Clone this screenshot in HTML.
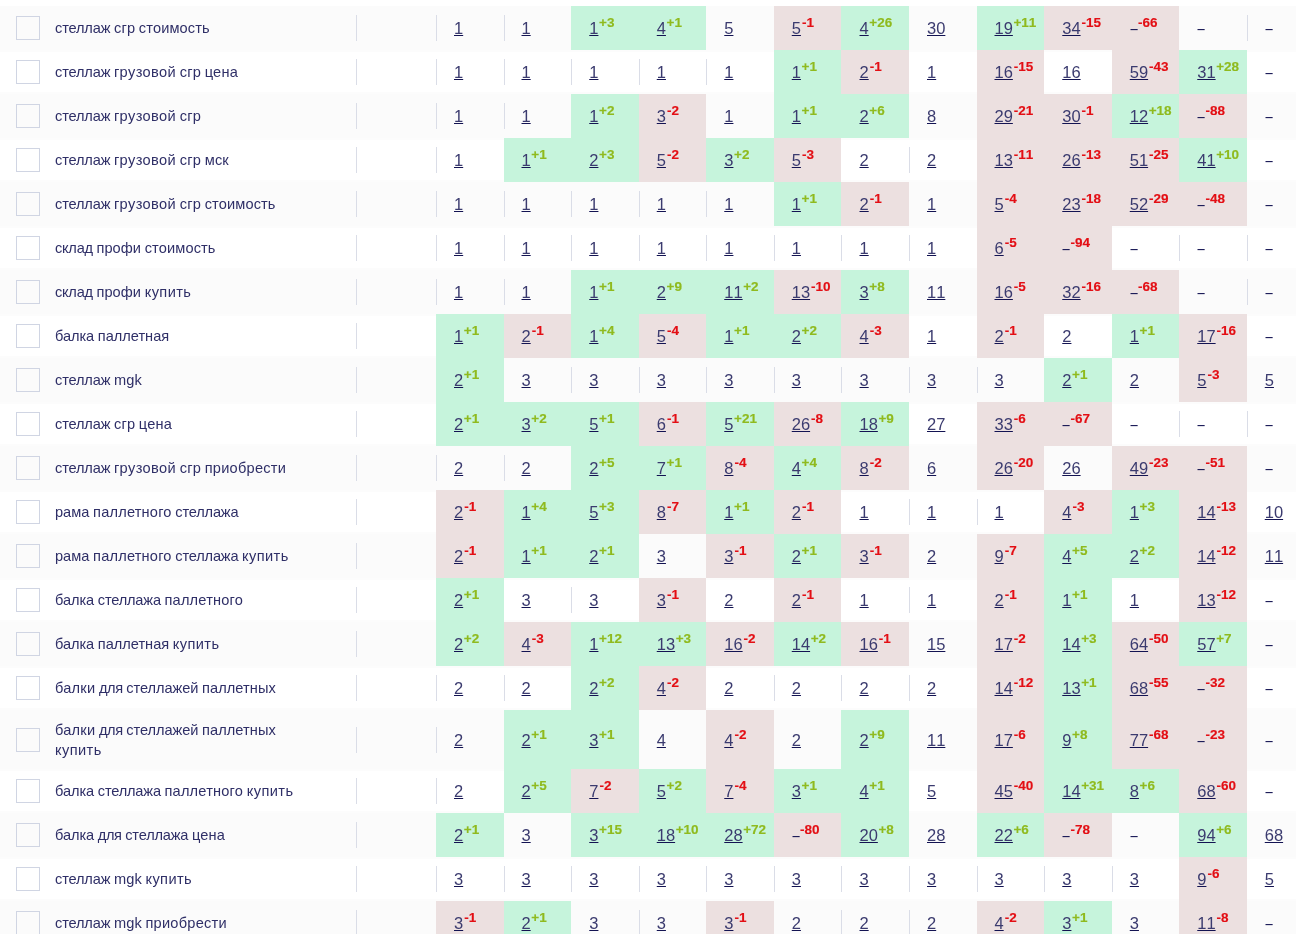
<!DOCTYPE html>
<html lang="ru">
<head>
<meta charset="utf-8">
<title>Позиции</title>
<style>
*{box-sizing:border-box;margin:0;padding:0}
html,body{width:1296px;height:934px;overflow:hidden;background:#fff}
body{font-family:"Liberation Sans", "DejaVu Sans", sans-serif;color:#131352;position:relative}
.t{position:absolute;left:0;top:0;width:1296px;height:934px;overflow:hidden}
.b{position:absolute;left:0;width:1296px;background:#fcfcfc}
.o{background:#fbfbfb}
.r{position:absolute;left:0;width:1296px}
.cb{position:absolute;left:16px;width:24px;height:24px;border:1px solid #d0d5e3;border-radius:0;background:transparent}
.k{color:#2f2f67;position:absolute;left:55px;width:290px;font-size:14.6px;line-height:20px;white-space:nowrap;word-spacing:-0.42px}
.c{position:absolute;top:0;height:100%;font-size:16.5px;white-space:nowrap;font-kerning:none}
.c.g{background:#c6f4dc}
.c.p{background:#ece0e0}
.s::before{content:"";position:absolute;left:0;top:9px;width:1px;height:26px;background:#dadde7}
.tall .s::before{top:17px}
.v{position:absolute;left:0;top:0;display:block;line-height:20px;height:20px}
.v a{color:#3b3b6f;text-decoration:underline;text-decoration-color:#131352;text-decoration-thickness:1px;text-underline-offset:1px;text-decoration-skip-ink:none}
.v sup{-webkit-text-stroke:0.15px currentColor;font-size:13.5px;font-weight:700;line-height:0;vertical-align:baseline;position:relative;top:-7px;margin-left:0.6px}
.p sup{margin-left:1.0px}
.d{display:inline-block;transform:translateX(-0.5px) scaleX(0.78);margin-right:-1.9px}
.g sup{color:#8fba1e}
.p sup{color:#e30e14}
</style>
</head>
<body>
<div class="t">
<div class="b" style="top:6px;height:46px"></div>
<div class="b" style="top:92px;height:48px"></div>
<div class="b" style="top:180px;height:48px"></div>
<div class="b" style="top:268px;height:48px"></div>
<div class="b" style="top:356px;height:48px"></div>
<div class="b" style="top:444px;height:48px"></div>
<div class="b" style="top:532px;height:48px"></div>
<div class="b" style="top:620px;height:48px"></div>
<div class="b" style="top:708px;height:63px"></div>
<div class="b" style="top:811px;height:48px"></div>
<div class="b" style="top:899px;height:48px"></div>
<div class="r o" style="top:6px;height:44px">
<span class="cb" style="top:10px"></span>
<div class="k" style="top:12px"><span style="letter-spacing:-0.16px">стеллаж</span> <span style="letter-spacing:0.19px">сгр</span> <span style="letter-spacing:0.12px">стоимость</span></div>
<div class="c s" style="left:356px;width:80px"></div>
<div class="c s" style="left:436px;width:68px"><span class="v" style="left:18.0px;top:12px"><a href="#">1</a></span></div>
<div class="c s" style="left:504px;width:67px"><span class="v" style="left:17.5px;top:12px"><a href="#">1</a></span></div>
<div class="c g" style="left:571px;width:68px"><span class="v" style="left:18.25px;top:12px"><a href="#">1</a><sup>+3</sup></span></div>
<div class="c g" style="left:639px;width:67px"><span class="v" style="left:17.75px;top:12px"><a href="#">4</a><sup>+1</sup></span></div>
<div class="c" style="left:706px;width:68px"><span class="v" style="left:18.25px;top:12px"><a href="#">5</a></span></div>
<div class="c p" style="left:774px;width:67px"><span class="v" style="left:17.75px;top:12px"><a href="#">5</a><sup>-1</sup></span></div>
<div class="c g" style="left:841px;width:68px"><span class="v" style="left:18.5px;top:12px"><a href="#">4</a><sup>+26</sup></span></div>
<div class="c" style="left:909px;width:68px"><span class="v" style="left:18.0px;top:12px"><a href="#">30</a></span></div>
<div class="c g" style="left:977px;width:67px"><span class="v" style="left:17.5px;top:12px"><a href="#">19</a><sup>+11</sup></span></div>
<div class="c p" style="left:1044px;width:68px"><span class="v" style="left:18.25px;top:12px"><a href="#">34</a><sup>-15</sup></span></div>
<div class="c p" style="left:1112px;width:67px"><span class="v" style="left:17.75px;top:12px"><span class="d">–</span><sup>-66</sup></span></div>
<div class="c" style="left:1179px;width:68px"><span class="v" style="left:18.25px;top:12px"><span class="d">–</span></span></div>
<div class="c s" style="left:1247px;width:68px"><span class="v" style="left:17.75px;top:12px"><span class="d">–</span></span></div>
</div>
<div class="r" style="top:50px;height:44px">
<span class="cb" style="top:10px"></span>
<div class="k" style="top:12px"><span style="letter-spacing:-0.16px">стеллаж</span> <span style="letter-spacing:0.39px">грузовой</span> <span style="letter-spacing:0.19px">сгр</span> <span style="letter-spacing:0.19px">цена</span></div>
<div class="c s" style="left:356px;width:80px"></div>
<div class="c s" style="left:436px;width:68px"><span class="v" style="left:18.0px;top:12px"><a href="#">1</a></span></div>
<div class="c s" style="left:504px;width:67px"><span class="v" style="left:17.5px;top:12px"><a href="#">1</a></span></div>
<div class="c s" style="left:571px;width:68px"><span class="v" style="left:18.25px;top:12px"><a href="#">1</a></span></div>
<div class="c s" style="left:639px;width:67px"><span class="v" style="left:17.75px;top:12px"><a href="#">1</a></span></div>
<div class="c s" style="left:706px;width:68px"><span class="v" style="left:18.25px;top:12px"><a href="#">1</a></span></div>
<div class="c g" style="left:774px;width:67px"><span class="v" style="left:17.75px;top:12px"><a href="#">1</a><sup>+1</sup></span></div>
<div class="c p" style="left:841px;width:68px"><span class="v" style="left:18.5px;top:12px"><a href="#">2</a><sup>-1</sup></span></div>
<div class="c" style="left:909px;width:68px"><span class="v" style="left:18.0px;top:12px"><a href="#">1</a></span></div>
<div class="c p" style="left:977px;width:67px"><span class="v" style="left:17.5px;top:12px"><a href="#">16</a><sup>-15</sup></span></div>
<div class="c" style="left:1044px;width:68px"><span class="v" style="left:18.25px;top:12px"><a href="#">16</a></span></div>
<div class="c p" style="left:1112px;width:67px"><span class="v" style="left:17.75px;top:12px"><a href="#">59</a><sup>-43</sup></span></div>
<div class="c g" style="left:1179px;width:68px"><span class="v" style="left:18.25px;top:12px"><a href="#">31</a><sup>+28</sup></span></div>
<div class="c" style="left:1247px;width:68px"><span class="v" style="left:17.75px;top:12px"><span class="d">–</span></span></div>
</div>
<div class="r o" style="top:94px;height:44px">
<span class="cb" style="top:10px"></span>
<div class="k" style="top:12px"><span style="letter-spacing:-0.16px">стеллаж</span> <span style="letter-spacing:0.39px">грузовой</span> <span style="letter-spacing:0.19px">сгр</span></div>
<div class="c s" style="left:356px;width:80px"></div>
<div class="c s" style="left:436px;width:68px"><span class="v" style="left:18.0px;top:12px"><a href="#">1</a></span></div>
<div class="c s" style="left:504px;width:67px"><span class="v" style="left:17.5px;top:12px"><a href="#">1</a></span></div>
<div class="c g" style="left:571px;width:68px"><span class="v" style="left:18.25px;top:12px"><a href="#">1</a><sup>+2</sup></span></div>
<div class="c p" style="left:639px;width:67px"><span class="v" style="left:17.75px;top:12px"><a href="#">3</a><sup>-2</sup></span></div>
<div class="c" style="left:706px;width:68px"><span class="v" style="left:18.25px;top:12px"><a href="#">1</a></span></div>
<div class="c g" style="left:774px;width:67px"><span class="v" style="left:17.75px;top:12px"><a href="#">1</a><sup>+1</sup></span></div>
<div class="c g" style="left:841px;width:68px"><span class="v" style="left:18.5px;top:12px"><a href="#">2</a><sup>+6</sup></span></div>
<div class="c" style="left:909px;width:68px"><span class="v" style="left:18.0px;top:12px"><a href="#">8</a></span></div>
<div class="c p" style="left:977px;width:67px"><span class="v" style="left:17.5px;top:12px"><a href="#">29</a><sup>-21</sup></span></div>
<div class="c p" style="left:1044px;width:68px"><span class="v" style="left:18.25px;top:12px"><a href="#">30</a><sup>-1</sup></span></div>
<div class="c g" style="left:1112px;width:67px"><span class="v" style="left:17.75px;top:12px"><a href="#">12</a><sup>+18</sup></span></div>
<div class="c p" style="left:1179px;width:68px"><span class="v" style="left:18.25px;top:12px"><span class="d">–</span><sup>-88</sup></span></div>
<div class="c" style="left:1247px;width:68px"><span class="v" style="left:17.75px;top:12px"><span class="d">–</span></span></div>
</div>
<div class="r" style="top:138px;height:44px">
<span class="cb" style="top:10px"></span>
<div class="k" style="top:12px"><span style="letter-spacing:-0.16px">стеллаж</span> <span style="letter-spacing:0.39px">грузовой</span> <span style="letter-spacing:0.19px">сгр</span> <span style="letter-spacing:0.17px">мск</span></div>
<div class="c s" style="left:356px;width:80px"></div>
<div class="c s" style="left:436px;width:68px"><span class="v" style="left:18.0px;top:12px"><a href="#">1</a></span></div>
<div class="c g" style="left:504px;width:67px"><span class="v" style="left:17.5px;top:12px"><a href="#">1</a><sup>+1</sup></span></div>
<div class="c g" style="left:571px;width:68px"><span class="v" style="left:18.25px;top:12px"><a href="#">2</a><sup>+3</sup></span></div>
<div class="c p" style="left:639px;width:67px"><span class="v" style="left:17.75px;top:12px"><a href="#">5</a><sup>-2</sup></span></div>
<div class="c g" style="left:706px;width:68px"><span class="v" style="left:18.25px;top:12px"><a href="#">3</a><sup>+2</sup></span></div>
<div class="c p" style="left:774px;width:67px"><span class="v" style="left:17.75px;top:12px"><a href="#">5</a><sup>-3</sup></span></div>
<div class="c" style="left:841px;width:68px"><span class="v" style="left:18.5px;top:12px"><a href="#">2</a></span></div>
<div class="c s" style="left:909px;width:68px"><span class="v" style="left:18.0px;top:12px"><a href="#">2</a></span></div>
<div class="c p" style="left:977px;width:67px"><span class="v" style="left:17.5px;top:12px"><a href="#">13</a><sup>-11</sup></span></div>
<div class="c p" style="left:1044px;width:68px"><span class="v" style="left:18.25px;top:12px"><a href="#">26</a><sup>-13</sup></span></div>
<div class="c p" style="left:1112px;width:67px"><span class="v" style="left:17.75px;top:12px"><a href="#">51</a><sup>-25</sup></span></div>
<div class="c g" style="left:1179px;width:68px"><span class="v" style="left:18.25px;top:12px"><a href="#">41</a><sup>+10</sup></span></div>
<div class="c" style="left:1247px;width:68px"><span class="v" style="left:17.75px;top:12px"><span class="d">–</span></span></div>
</div>
<div class="r o" style="top:182px;height:44px">
<span class="cb" style="top:10px"></span>
<div class="k" style="top:12px"><span style="letter-spacing:-0.16px">стеллаж</span> <span style="letter-spacing:0.39px">грузовой</span> <span style="letter-spacing:0.19px">сгр</span> <span style="letter-spacing:0.12px">стоимость</span></div>
<div class="c s" style="left:356px;width:80px"></div>
<div class="c s" style="left:436px;width:68px"><span class="v" style="left:18.0px;top:12px"><a href="#">1</a></span></div>
<div class="c s" style="left:504px;width:67px"><span class="v" style="left:17.5px;top:12px"><a href="#">1</a></span></div>
<div class="c s" style="left:571px;width:68px"><span class="v" style="left:18.25px;top:12px"><a href="#">1</a></span></div>
<div class="c s" style="left:639px;width:67px"><span class="v" style="left:17.75px;top:12px"><a href="#">1</a></span></div>
<div class="c s" style="left:706px;width:68px"><span class="v" style="left:18.25px;top:12px"><a href="#">1</a></span></div>
<div class="c g" style="left:774px;width:67px"><span class="v" style="left:17.75px;top:12px"><a href="#">1</a><sup>+1</sup></span></div>
<div class="c p" style="left:841px;width:68px"><span class="v" style="left:18.5px;top:12px"><a href="#">2</a><sup>-1</sup></span></div>
<div class="c" style="left:909px;width:68px"><span class="v" style="left:18.0px;top:12px"><a href="#">1</a></span></div>
<div class="c p" style="left:977px;width:67px"><span class="v" style="left:17.5px;top:12px"><a href="#">5</a><sup>-4</sup></span></div>
<div class="c p" style="left:1044px;width:68px"><span class="v" style="left:18.25px;top:12px"><a href="#">23</a><sup>-18</sup></span></div>
<div class="c p" style="left:1112px;width:67px"><span class="v" style="left:17.75px;top:12px"><a href="#">52</a><sup>-29</sup></span></div>
<div class="c p" style="left:1179px;width:68px"><span class="v" style="left:18.25px;top:12px"><span class="d">–</span><sup>-48</sup></span></div>
<div class="c" style="left:1247px;width:68px"><span class="v" style="left:17.75px;top:12px"><span class="d">–</span></span></div>
</div>
<div class="r" style="top:226px;height:44px">
<span class="cb" style="top:10px"></span>
<div class="k" style="top:12px"><span style="letter-spacing:-0.24px">склад</span> <span style="letter-spacing:0.06px">профи</span> <span style="letter-spacing:0.12px">стоимость</span></div>
<div class="c s" style="left:356px;width:80px"></div>
<div class="c s" style="left:436px;width:68px"><span class="v" style="left:18.0px;top:12px"><a href="#">1</a></span></div>
<div class="c s" style="left:504px;width:67px"><span class="v" style="left:17.5px;top:12px"><a href="#">1</a></span></div>
<div class="c s" style="left:571px;width:68px"><span class="v" style="left:18.25px;top:12px"><a href="#">1</a></span></div>
<div class="c s" style="left:639px;width:67px"><span class="v" style="left:17.75px;top:12px"><a href="#">1</a></span></div>
<div class="c s" style="left:706px;width:68px"><span class="v" style="left:18.25px;top:12px"><a href="#">1</a></span></div>
<div class="c s" style="left:774px;width:67px"><span class="v" style="left:17.75px;top:12px"><a href="#">1</a></span></div>
<div class="c s" style="left:841px;width:68px"><span class="v" style="left:18.5px;top:12px"><a href="#">1</a></span></div>
<div class="c s" style="left:909px;width:68px"><span class="v" style="left:18.0px;top:12px"><a href="#">1</a></span></div>
<div class="c p" style="left:977px;width:67px"><span class="v" style="left:17.5px;top:12px"><a href="#">6</a><sup>-5</sup></span></div>
<div class="c p" style="left:1044px;width:68px"><span class="v" style="left:18.25px;top:12px"><span class="d">–</span><sup>-94</sup></span></div>
<div class="c" style="left:1112px;width:67px"><span class="v" style="left:17.75px;top:12px"><span class="d">–</span></span></div>
<div class="c s" style="left:1179px;width:68px"><span class="v" style="left:18.25px;top:12px"><span class="d">–</span></span></div>
<div class="c s" style="left:1247px;width:68px"><span class="v" style="left:17.75px;top:12px"><span class="d">–</span></span></div>
</div>
<div class="r o" style="top:270px;height:44px">
<span class="cb" style="top:10px"></span>
<div class="k" style="top:12px"><span style="letter-spacing:-0.24px">склад</span> <span style="letter-spacing:0.06px">профи</span> <span style="letter-spacing:0.42px">купить</span></div>
<div class="c s" style="left:356px;width:80px"></div>
<div class="c s" style="left:436px;width:68px"><span class="v" style="left:18.0px;top:12px"><a href="#">1</a></span></div>
<div class="c s" style="left:504px;width:67px"><span class="v" style="left:17.5px;top:12px"><a href="#">1</a></span></div>
<div class="c g" style="left:571px;width:68px"><span class="v" style="left:18.25px;top:12px"><a href="#">1</a><sup>+1</sup></span></div>
<div class="c g" style="left:639px;width:67px"><span class="v" style="left:17.75px;top:12px"><a href="#">2</a><sup>+9</sup></span></div>
<div class="c g" style="left:706px;width:68px"><span class="v" style="left:18.25px;top:12px"><a href="#">11</a><sup>+2</sup></span></div>
<div class="c p" style="left:774px;width:67px"><span class="v" style="left:17.75px;top:12px"><a href="#">13</a><sup>-10</sup></span></div>
<div class="c g" style="left:841px;width:68px"><span class="v" style="left:18.5px;top:12px"><a href="#">3</a><sup>+8</sup></span></div>
<div class="c" style="left:909px;width:68px"><span class="v" style="left:18.0px;top:12px"><a href="#">11</a></span></div>
<div class="c p" style="left:977px;width:67px"><span class="v" style="left:17.5px;top:12px"><a href="#">16</a><sup>-5</sup></span></div>
<div class="c p" style="left:1044px;width:68px"><span class="v" style="left:18.25px;top:12px"><a href="#">32</a><sup>-16</sup></span></div>
<div class="c p" style="left:1112px;width:67px"><span class="v" style="left:17.75px;top:12px"><span class="d">–</span><sup>-68</sup></span></div>
<div class="c" style="left:1179px;width:68px"><span class="v" style="left:18.25px;top:12px"><span class="d">–</span></span></div>
<div class="c s" style="left:1247px;width:68px"><span class="v" style="left:17.75px;top:12px"><span class="d">–</span></span></div>
</div>
<div class="r" style="top:314px;height:44px">
<span class="cb" style="top:10px"></span>
<div class="k" style="top:12px"><span style="letter-spacing:-0.07px">балка</span> <span style="letter-spacing:-0.01px">паллетная</span></div>
<div class="c s" style="left:356px;width:80px"></div>
<div class="c g" style="left:436px;width:68px"><span class="v" style="left:18.0px;top:12px"><a href="#">1</a><sup>+1</sup></span></div>
<div class="c p" style="left:504px;width:67px"><span class="v" style="left:17.5px;top:12px"><a href="#">2</a><sup>-1</sup></span></div>
<div class="c g" style="left:571px;width:68px"><span class="v" style="left:18.25px;top:12px"><a href="#">1</a><sup>+4</sup></span></div>
<div class="c p" style="left:639px;width:67px"><span class="v" style="left:17.75px;top:12px"><a href="#">5</a><sup>-4</sup></span></div>
<div class="c g" style="left:706px;width:68px"><span class="v" style="left:18.25px;top:12px"><a href="#">1</a><sup>+1</sup></span></div>
<div class="c g" style="left:774px;width:67px"><span class="v" style="left:17.75px;top:12px"><a href="#">2</a><sup>+2</sup></span></div>
<div class="c p" style="left:841px;width:68px"><span class="v" style="left:18.5px;top:12px"><a href="#">4</a><sup>-3</sup></span></div>
<div class="c" style="left:909px;width:68px"><span class="v" style="left:18.0px;top:12px"><a href="#">1</a></span></div>
<div class="c p" style="left:977px;width:67px"><span class="v" style="left:17.5px;top:12px"><a href="#">2</a><sup>-1</sup></span></div>
<div class="c" style="left:1044px;width:68px"><span class="v" style="left:18.25px;top:12px"><a href="#">2</a></span></div>
<div class="c g" style="left:1112px;width:67px"><span class="v" style="left:17.75px;top:12px"><a href="#">1</a><sup>+1</sup></span></div>
<div class="c p" style="left:1179px;width:68px"><span class="v" style="left:18.25px;top:12px"><a href="#">17</a><sup>-16</sup></span></div>
<div class="c" style="left:1247px;width:68px"><span class="v" style="left:17.75px;top:12px"><span class="d">–</span></span></div>
</div>
<div class="r o" style="top:358px;height:44px">
<span class="cb" style="top:10px"></span>
<div class="k" style="top:12px"><span style="letter-spacing:-0.16px">стеллаж</span> <span style="letter-spacing:0.11px">mgk</span></div>
<div class="c s" style="left:356px;width:80px"></div>
<div class="c g" style="left:436px;width:68px"><span class="v" style="left:18.0px;top:12px"><a href="#">2</a><sup>+1</sup></span></div>
<div class="c" style="left:504px;width:67px"><span class="v" style="left:17.5px;top:12px"><a href="#">3</a></span></div>
<div class="c s" style="left:571px;width:68px"><span class="v" style="left:18.25px;top:12px"><a href="#">3</a></span></div>
<div class="c s" style="left:639px;width:67px"><span class="v" style="left:17.75px;top:12px"><a href="#">3</a></span></div>
<div class="c s" style="left:706px;width:68px"><span class="v" style="left:18.25px;top:12px"><a href="#">3</a></span></div>
<div class="c s" style="left:774px;width:67px"><span class="v" style="left:17.75px;top:12px"><a href="#">3</a></span></div>
<div class="c s" style="left:841px;width:68px"><span class="v" style="left:18.5px;top:12px"><a href="#">3</a></span></div>
<div class="c s" style="left:909px;width:68px"><span class="v" style="left:18.0px;top:12px"><a href="#">3</a></span></div>
<div class="c s" style="left:977px;width:67px"><span class="v" style="left:17.5px;top:12px"><a href="#">3</a></span></div>
<div class="c g" style="left:1044px;width:68px"><span class="v" style="left:18.25px;top:12px"><a href="#">2</a><sup>+1</sup></span></div>
<div class="c" style="left:1112px;width:67px"><span class="v" style="left:17.75px;top:12px"><a href="#">2</a></span></div>
<div class="c p" style="left:1179px;width:68px"><span class="v" style="left:18.25px;top:12px"><a href="#">5</a><sup>-3</sup></span></div>
<div class="c" style="left:1247px;width:68px"><span class="v" style="left:17.75px;top:12px"><a href="#">5</a></span></div>
</div>
<div class="r" style="top:402px;height:44px">
<span class="cb" style="top:10px"></span>
<div class="k" style="top:12px"><span style="letter-spacing:-0.16px">стеллаж</span> <span style="letter-spacing:0.19px">сгр</span> <span style="letter-spacing:0.19px">цена</span></div>
<div class="c s" style="left:356px;width:80px"></div>
<div class="c g" style="left:436px;width:68px"><span class="v" style="left:18.0px;top:12px"><a href="#">2</a><sup>+1</sup></span></div>
<div class="c g" style="left:504px;width:67px"><span class="v" style="left:17.5px;top:12px"><a href="#">3</a><sup>+2</sup></span></div>
<div class="c g" style="left:571px;width:68px"><span class="v" style="left:18.25px;top:12px"><a href="#">5</a><sup>+1</sup></span></div>
<div class="c p" style="left:639px;width:67px"><span class="v" style="left:17.75px;top:12px"><a href="#">6</a><sup>-1</sup></span></div>
<div class="c g" style="left:706px;width:68px"><span class="v" style="left:18.25px;top:12px"><a href="#">5</a><sup>+21</sup></span></div>
<div class="c p" style="left:774px;width:67px"><span class="v" style="left:17.75px;top:12px"><a href="#">26</a><sup>-8</sup></span></div>
<div class="c g" style="left:841px;width:68px"><span class="v" style="left:18.5px;top:12px"><a href="#">18</a><sup>+9</sup></span></div>
<div class="c" style="left:909px;width:68px"><span class="v" style="left:18.0px;top:12px"><a href="#">27</a></span></div>
<div class="c p" style="left:977px;width:67px"><span class="v" style="left:17.5px;top:12px"><a href="#">33</a><sup>-6</sup></span></div>
<div class="c p" style="left:1044px;width:68px"><span class="v" style="left:18.25px;top:12px"><span class="d">–</span><sup>-67</sup></span></div>
<div class="c" style="left:1112px;width:67px"><span class="v" style="left:17.75px;top:12px"><span class="d">–</span></span></div>
<div class="c s" style="left:1179px;width:68px"><span class="v" style="left:18.25px;top:12px"><span class="d">–</span></span></div>
<div class="c s" style="left:1247px;width:68px"><span class="v" style="left:17.75px;top:12px"><span class="d">–</span></span></div>
</div>
<div class="r o" style="top:446px;height:44px">
<span class="cb" style="top:10px"></span>
<div class="k" style="top:12px"><span style="letter-spacing:-0.16px">стеллаж</span> <span style="letter-spacing:0.39px">грузовой</span> <span style="letter-spacing:0.19px">сгр</span> <span style="letter-spacing:0.25px">приобрести</span></div>
<div class="c s" style="left:356px;width:80px"></div>
<div class="c s" style="left:436px;width:68px"><span class="v" style="left:18.0px;top:12px"><a href="#">2</a></span></div>
<div class="c s" style="left:504px;width:67px"><span class="v" style="left:17.5px;top:12px"><a href="#">2</a></span></div>
<div class="c g" style="left:571px;width:68px"><span class="v" style="left:18.25px;top:12px"><a href="#">2</a><sup>+5</sup></span></div>
<div class="c g" style="left:639px;width:67px"><span class="v" style="left:17.75px;top:12px"><a href="#">7</a><sup>+1</sup></span></div>
<div class="c p" style="left:706px;width:68px"><span class="v" style="left:18.25px;top:12px"><a href="#">8</a><sup>-4</sup></span></div>
<div class="c g" style="left:774px;width:67px"><span class="v" style="left:17.75px;top:12px"><a href="#">4</a><sup>+4</sup></span></div>
<div class="c p" style="left:841px;width:68px"><span class="v" style="left:18.5px;top:12px"><a href="#">8</a><sup>-2</sup></span></div>
<div class="c" style="left:909px;width:68px"><span class="v" style="left:18.0px;top:12px"><a href="#">6</a></span></div>
<div class="c p" style="left:977px;width:67px"><span class="v" style="left:17.5px;top:12px"><a href="#">26</a><sup>-20</sup></span></div>
<div class="c" style="left:1044px;width:68px"><span class="v" style="left:18.25px;top:12px"><a href="#">26</a></span></div>
<div class="c p" style="left:1112px;width:67px"><span class="v" style="left:17.75px;top:12px"><a href="#">49</a><sup>-23</sup></span></div>
<div class="c p" style="left:1179px;width:68px"><span class="v" style="left:18.25px;top:12px"><span class="d">–</span><sup>-51</sup></span></div>
<div class="c" style="left:1247px;width:68px"><span class="v" style="left:17.75px;top:12px"><span class="d">–</span></span></div>
</div>
<div class="r" style="top:490px;height:44px">
<span class="cb" style="top:10px"></span>
<div class="k" style="top:12px"><span>рама</span> <span style="letter-spacing:0.2px">паллетного</span> <span style="letter-spacing:-0.18px">стеллажа</span></div>
<div class="c s" style="left:356px;width:80px"></div>
<div class="c p" style="left:436px;width:68px"><span class="v" style="left:18.0px;top:12px"><a href="#">2</a><sup>-1</sup></span></div>
<div class="c g" style="left:504px;width:67px"><span class="v" style="left:17.5px;top:12px"><a href="#">1</a><sup>+4</sup></span></div>
<div class="c g" style="left:571px;width:68px"><span class="v" style="left:18.25px;top:12px"><a href="#">5</a><sup>+3</sup></span></div>
<div class="c p" style="left:639px;width:67px"><span class="v" style="left:17.75px;top:12px"><a href="#">8</a><sup>-7</sup></span></div>
<div class="c g" style="left:706px;width:68px"><span class="v" style="left:18.25px;top:12px"><a href="#">1</a><sup>+1</sup></span></div>
<div class="c p" style="left:774px;width:67px"><span class="v" style="left:17.75px;top:12px"><a href="#">2</a><sup>-1</sup></span></div>
<div class="c" style="left:841px;width:68px"><span class="v" style="left:18.5px;top:12px"><a href="#">1</a></span></div>
<div class="c s" style="left:909px;width:68px"><span class="v" style="left:18.0px;top:12px"><a href="#">1</a></span></div>
<div class="c s" style="left:977px;width:67px"><span class="v" style="left:17.5px;top:12px"><a href="#">1</a></span></div>
<div class="c p" style="left:1044px;width:68px"><span class="v" style="left:18.25px;top:12px"><a href="#">4</a><sup>-3</sup></span></div>
<div class="c g" style="left:1112px;width:67px"><span class="v" style="left:17.75px;top:12px"><a href="#">1</a><sup>+3</sup></span></div>
<div class="c p" style="left:1179px;width:68px"><span class="v" style="left:18.25px;top:12px"><a href="#">14</a><sup>-13</sup></span></div>
<div class="c" style="left:1247px;width:68px"><span class="v" style="left:17.75px;top:12px"><a href="#">10</a></span></div>
</div>
<div class="r o" style="top:534px;height:44px">
<span class="cb" style="top:10px"></span>
<div class="k" style="top:12px"><span>рама</span> <span style="letter-spacing:0.2px">паллетного</span> <span style="letter-spacing:-0.18px">стеллажа</span> <span style="letter-spacing:0.42px">купить</span></div>
<div class="c s" style="left:356px;width:80px"></div>
<div class="c p" style="left:436px;width:68px"><span class="v" style="left:18.0px;top:12px"><a href="#">2</a><sup>-1</sup></span></div>
<div class="c g" style="left:504px;width:67px"><span class="v" style="left:17.5px;top:12px"><a href="#">1</a><sup>+1</sup></span></div>
<div class="c g" style="left:571px;width:68px"><span class="v" style="left:18.25px;top:12px"><a href="#">2</a><sup>+1</sup></span></div>
<div class="c" style="left:639px;width:67px"><span class="v" style="left:17.75px;top:12px"><a href="#">3</a></span></div>
<div class="c p" style="left:706px;width:68px"><span class="v" style="left:18.25px;top:12px"><a href="#">3</a><sup>-1</sup></span></div>
<div class="c g" style="left:774px;width:67px"><span class="v" style="left:17.75px;top:12px"><a href="#">2</a><sup>+1</sup></span></div>
<div class="c p" style="left:841px;width:68px"><span class="v" style="left:18.5px;top:12px"><a href="#">3</a><sup>-1</sup></span></div>
<div class="c" style="left:909px;width:68px"><span class="v" style="left:18.0px;top:12px"><a href="#">2</a></span></div>
<div class="c p" style="left:977px;width:67px"><span class="v" style="left:17.5px;top:12px"><a href="#">9</a><sup>-7</sup></span></div>
<div class="c g" style="left:1044px;width:68px"><span class="v" style="left:18.25px;top:12px"><a href="#">4</a><sup>+5</sup></span></div>
<div class="c g" style="left:1112px;width:67px"><span class="v" style="left:17.75px;top:12px"><a href="#">2</a><sup>+2</sup></span></div>
<div class="c p" style="left:1179px;width:68px"><span class="v" style="left:18.25px;top:12px"><a href="#">14</a><sup>-12</sup></span></div>
<div class="c" style="left:1247px;width:68px"><span class="v" style="left:17.75px;top:12px"><a href="#">11</a></span></div>
</div>
<div class="r" style="top:578px;height:44px">
<span class="cb" style="top:10px"></span>
<div class="k" style="top:12px"><span style="letter-spacing:-0.07px">балка</span> <span style="letter-spacing:-0.18px">стеллажа</span> <span style="letter-spacing:0.2px">паллетного</span></div>
<div class="c s" style="left:356px;width:80px"></div>
<div class="c g" style="left:436px;width:68px"><span class="v" style="left:18.0px;top:12px"><a href="#">2</a><sup>+1</sup></span></div>
<div class="c" style="left:504px;width:67px"><span class="v" style="left:17.5px;top:12px"><a href="#">3</a></span></div>
<div class="c s" style="left:571px;width:68px"><span class="v" style="left:18.25px;top:12px"><a href="#">3</a></span></div>
<div class="c p" style="left:639px;width:67px"><span class="v" style="left:17.75px;top:12px"><a href="#">3</a><sup>-1</sup></span></div>
<div class="c" style="left:706px;width:68px"><span class="v" style="left:18.25px;top:12px"><a href="#">2</a></span></div>
<div class="c p" style="left:774px;width:67px"><span class="v" style="left:17.75px;top:12px"><a href="#">2</a><sup>-1</sup></span></div>
<div class="c" style="left:841px;width:68px"><span class="v" style="left:18.5px;top:12px"><a href="#">1</a></span></div>
<div class="c s" style="left:909px;width:68px"><span class="v" style="left:18.0px;top:12px"><a href="#">1</a></span></div>
<div class="c p" style="left:977px;width:67px"><span class="v" style="left:17.5px;top:12px"><a href="#">2</a><sup>-1</sup></span></div>
<div class="c g" style="left:1044px;width:68px"><span class="v" style="left:18.25px;top:12px"><a href="#">1</a><sup>+1</sup></span></div>
<div class="c" style="left:1112px;width:67px"><span class="v" style="left:17.75px;top:12px"><a href="#">1</a></span></div>
<div class="c p" style="left:1179px;width:68px"><span class="v" style="left:18.25px;top:12px"><a href="#">13</a><sup>-12</sup></span></div>
<div class="c" style="left:1247px;width:68px"><span class="v" style="left:17.75px;top:12px"><span class="d">–</span></span></div>
</div>
<div class="r o" style="top:622px;height:44px">
<span class="cb" style="top:10px"></span>
<div class="k" style="top:12px"><span style="letter-spacing:-0.07px">балка</span> <span style="letter-spacing:-0.01px">паллетная</span> <span style="letter-spacing:0.42px">купить</span></div>
<div class="c s" style="left:356px;width:80px"></div>
<div class="c g" style="left:436px;width:68px"><span class="v" style="left:18.0px;top:12px"><a href="#">2</a><sup>+2</sup></span></div>
<div class="c p" style="left:504px;width:67px"><span class="v" style="left:17.5px;top:12px"><a href="#">4</a><sup>-3</sup></span></div>
<div class="c g" style="left:571px;width:68px"><span class="v" style="left:18.25px;top:12px"><a href="#">1</a><sup>+12</sup></span></div>
<div class="c g" style="left:639px;width:67px"><span class="v" style="left:17.75px;top:12px"><a href="#">13</a><sup>+3</sup></span></div>
<div class="c p" style="left:706px;width:68px"><span class="v" style="left:18.25px;top:12px"><a href="#">16</a><sup>-2</sup></span></div>
<div class="c g" style="left:774px;width:67px"><span class="v" style="left:17.75px;top:12px"><a href="#">14</a><sup>+2</sup></span></div>
<div class="c p" style="left:841px;width:68px"><span class="v" style="left:18.5px;top:12px"><a href="#">16</a><sup>-1</sup></span></div>
<div class="c" style="left:909px;width:68px"><span class="v" style="left:18.0px;top:12px"><a href="#">15</a></span></div>
<div class="c p" style="left:977px;width:67px"><span class="v" style="left:17.5px;top:12px"><a href="#">17</a><sup>-2</sup></span></div>
<div class="c g" style="left:1044px;width:68px"><span class="v" style="left:18.25px;top:12px"><a href="#">14</a><sup>+3</sup></span></div>
<div class="c p" style="left:1112px;width:67px"><span class="v" style="left:17.75px;top:12px"><a href="#">64</a><sup>-50</sup></span></div>
<div class="c g" style="left:1179px;width:68px"><span class="v" style="left:18.25px;top:12px"><a href="#">57</a><sup>+7</sup></span></div>
<div class="c" style="left:1247px;width:68px"><span class="v" style="left:17.75px;top:12px"><span class="d">–</span></span></div>
</div>
<div class="r" style="top:666px;height:44px">
<span class="cb" style="top:10px"></span>
<div class="k" style="top:12px"><span style="letter-spacing:0.21px">балки</span> <span style="letter-spacing:-0.38px">для</span> <span style="letter-spacing:-0.07px">стеллажей</span> <span style="letter-spacing:0.07px">паллетных</span></div>
<div class="c s" style="left:356px;width:80px"></div>
<div class="c s" style="left:436px;width:68px"><span class="v" style="left:18.0px;top:12px"><a href="#">2</a></span></div>
<div class="c s" style="left:504px;width:67px"><span class="v" style="left:17.5px;top:12px"><a href="#">2</a></span></div>
<div class="c g" style="left:571px;width:68px"><span class="v" style="left:18.25px;top:12px"><a href="#">2</a><sup>+2</sup></span></div>
<div class="c p" style="left:639px;width:67px"><span class="v" style="left:17.75px;top:12px"><a href="#">4</a><sup>-2</sup></span></div>
<div class="c" style="left:706px;width:68px"><span class="v" style="left:18.25px;top:12px"><a href="#">2</a></span></div>
<div class="c s" style="left:774px;width:67px"><span class="v" style="left:17.75px;top:12px"><a href="#">2</a></span></div>
<div class="c s" style="left:841px;width:68px"><span class="v" style="left:18.5px;top:12px"><a href="#">2</a></span></div>
<div class="c s" style="left:909px;width:68px"><span class="v" style="left:18.0px;top:12px"><a href="#">2</a></span></div>
<div class="c p" style="left:977px;width:67px"><span class="v" style="left:17.5px;top:12px"><a href="#">14</a><sup>-12</sup></span></div>
<div class="c g" style="left:1044px;width:68px"><span class="v" style="left:18.25px;top:12px"><a href="#">13</a><sup>+1</sup></span></div>
<div class="c p" style="left:1112px;width:67px"><span class="v" style="left:17.75px;top:12px"><a href="#">68</a><sup>-55</sup></span></div>
<div class="c p" style="left:1179px;width:68px"><span class="v" style="left:18.25px;top:12px"><span class="d">–</span><sup>-32</sup></span></div>
<div class="c" style="left:1247px;width:68px"><span class="v" style="left:17.75px;top:12px"><span class="d">–</span></span></div>
</div>
<div class="r o tall" style="top:710px;height:59px">
<span class="cb" style="top:18px"></span>
<div class="k" style="top:10px"><span style="letter-spacing:0.21px">балки</span> <span style="letter-spacing:-0.38px">для</span> <span style="letter-spacing:-0.07px">стеллажей</span> <span style="letter-spacing:0.07px">паллетных</span><br><span style="letter-spacing:0.42px">купить</span></div>
<div class="c s" style="left:356px;width:80px"></div>
<div class="c s" style="left:436px;width:68px"><span class="v" style="left:18.0px;top:19.5px"><a href="#">2</a></span></div>
<div class="c g" style="left:504px;width:67px"><span class="v" style="left:17.5px;top:19.5px"><a href="#">2</a><sup>+1</sup></span></div>
<div class="c g" style="left:571px;width:68px"><span class="v" style="left:18.25px;top:19.5px"><a href="#">3</a><sup>+1</sup></span></div>
<div class="c" style="left:639px;width:67px"><span class="v" style="left:17.75px;top:19.5px"><a href="#">4</a></span></div>
<div class="c p" style="left:706px;width:68px"><span class="v" style="left:18.25px;top:19.5px"><a href="#">4</a><sup>-2</sup></span></div>
<div class="c" style="left:774px;width:67px"><span class="v" style="left:17.75px;top:19.5px"><a href="#">2</a></span></div>
<div class="c g" style="left:841px;width:68px"><span class="v" style="left:18.5px;top:19.5px"><a href="#">2</a><sup>+9</sup></span></div>
<div class="c" style="left:909px;width:68px"><span class="v" style="left:18.0px;top:19.5px"><a href="#">11</a></span></div>
<div class="c p" style="left:977px;width:67px"><span class="v" style="left:17.5px;top:19.5px"><a href="#">17</a><sup>-6</sup></span></div>
<div class="c g" style="left:1044px;width:68px"><span class="v" style="left:18.25px;top:19.5px"><a href="#">9</a><sup>+8</sup></span></div>
<div class="c p" style="left:1112px;width:67px"><span class="v" style="left:17.75px;top:19.5px"><a href="#">77</a><sup>-68</sup></span></div>
<div class="c p" style="left:1179px;width:68px"><span class="v" style="left:18.25px;top:19.5px"><span class="d">–</span><sup>-23</sup></span></div>
<div class="c" style="left:1247px;width:68px"><span class="v" style="left:17.75px;top:19.5px"><span class="d">–</span></span></div>
</div>
<div class="r" style="top:769px;height:44px">
<span class="cb" style="top:10px"></span>
<div class="k" style="top:12px"><span style="letter-spacing:-0.07px">балка</span> <span style="letter-spacing:-0.18px">стеллажа</span> <span style="letter-spacing:0.2px">паллетного</span> <span style="letter-spacing:0.42px">купить</span></div>
<div class="c s" style="left:356px;width:80px"></div>
<div class="c s" style="left:436px;width:68px"><span class="v" style="left:18.0px;top:12px"><a href="#">2</a></span></div>
<div class="c g" style="left:504px;width:67px"><span class="v" style="left:17.5px;top:12px"><a href="#">2</a><sup>+5</sup></span></div>
<div class="c p" style="left:571px;width:68px"><span class="v" style="left:18.25px;top:12px"><a href="#">7</a><sup>-2</sup></span></div>
<div class="c g" style="left:639px;width:67px"><span class="v" style="left:17.75px;top:12px"><a href="#">5</a><sup>+2</sup></span></div>
<div class="c p" style="left:706px;width:68px"><span class="v" style="left:18.25px;top:12px"><a href="#">7</a><sup>-4</sup></span></div>
<div class="c g" style="left:774px;width:67px"><span class="v" style="left:17.75px;top:12px"><a href="#">3</a><sup>+1</sup></span></div>
<div class="c g" style="left:841px;width:68px"><span class="v" style="left:18.5px;top:12px"><a href="#">4</a><sup>+1</sup></span></div>
<div class="c" style="left:909px;width:68px"><span class="v" style="left:18.0px;top:12px"><a href="#">5</a></span></div>
<div class="c p" style="left:977px;width:67px"><span class="v" style="left:17.5px;top:12px"><a href="#">45</a><sup>-40</sup></span></div>
<div class="c g" style="left:1044px;width:68px"><span class="v" style="left:18.25px;top:12px"><a href="#">14</a><sup>+31</sup></span></div>
<div class="c g" style="left:1112px;width:67px"><span class="v" style="left:17.75px;top:12px"><a href="#">8</a><sup>+6</sup></span></div>
<div class="c p" style="left:1179px;width:68px"><span class="v" style="left:18.25px;top:12px"><a href="#">68</a><sup>-60</sup></span></div>
<div class="c" style="left:1247px;width:68px"><span class="v" style="left:17.75px;top:12px"><span class="d">–</span></span></div>
</div>
<div class="r o" style="top:813px;height:44px">
<span class="cb" style="top:10px"></span>
<div class="k" style="top:12px"><span style="letter-spacing:-0.07px">балка</span> <span style="letter-spacing:-0.38px">для</span> <span style="letter-spacing:-0.18px">стеллажа</span> <span style="letter-spacing:0.19px">цена</span></div>
<div class="c s" style="left:356px;width:80px"></div>
<div class="c g" style="left:436px;width:68px"><span class="v" style="left:18.0px;top:12px"><a href="#">2</a><sup>+1</sup></span></div>
<div class="c" style="left:504px;width:67px"><span class="v" style="left:17.5px;top:12px"><a href="#">3</a></span></div>
<div class="c g" style="left:571px;width:68px"><span class="v" style="left:18.25px;top:12px"><a href="#">3</a><sup>+15</sup></span></div>
<div class="c g" style="left:639px;width:67px"><span class="v" style="left:17.75px;top:12px"><a href="#">18</a><sup>+10</sup></span></div>
<div class="c g" style="left:706px;width:68px"><span class="v" style="left:18.25px;top:12px"><a href="#">28</a><sup>+72</sup></span></div>
<div class="c p" style="left:774px;width:67px"><span class="v" style="left:17.75px;top:12px"><span class="d">–</span><sup>-80</sup></span></div>
<div class="c g" style="left:841px;width:68px"><span class="v" style="left:18.5px;top:12px"><a href="#">20</a><sup>+8</sup></span></div>
<div class="c" style="left:909px;width:68px"><span class="v" style="left:18.0px;top:12px"><a href="#">28</a></span></div>
<div class="c g" style="left:977px;width:67px"><span class="v" style="left:17.5px;top:12px"><a href="#">22</a><sup>+6</sup></span></div>
<div class="c p" style="left:1044px;width:68px"><span class="v" style="left:18.25px;top:12px"><span class="d">–</span><sup>-78</sup></span></div>
<div class="c" style="left:1112px;width:67px"><span class="v" style="left:17.75px;top:12px"><span class="d">–</span></span></div>
<div class="c g" style="left:1179px;width:68px"><span class="v" style="left:18.25px;top:12px"><a href="#">94</a><sup>+6</sup></span></div>
<div class="c" style="left:1247px;width:68px"><span class="v" style="left:17.75px;top:12px"><a href="#">68</a></span></div>
</div>
<div class="r" style="top:857px;height:44px">
<span class="cb" style="top:10px"></span>
<div class="k" style="top:12px"><span style="letter-spacing:-0.16px">стеллаж</span> <span style="letter-spacing:0.11px">mgk</span> <span style="letter-spacing:0.42px">купить</span></div>
<div class="c s" style="left:356px;width:80px"></div>
<div class="c s" style="left:436px;width:68px"><span class="v" style="left:18.0px;top:12px"><a href="#">3</a></span></div>
<div class="c s" style="left:504px;width:67px"><span class="v" style="left:17.5px;top:12px"><a href="#">3</a></span></div>
<div class="c s" style="left:571px;width:68px"><span class="v" style="left:18.25px;top:12px"><a href="#">3</a></span></div>
<div class="c s" style="left:639px;width:67px"><span class="v" style="left:17.75px;top:12px"><a href="#">3</a></span></div>
<div class="c s" style="left:706px;width:68px"><span class="v" style="left:18.25px;top:12px"><a href="#">3</a></span></div>
<div class="c s" style="left:774px;width:67px"><span class="v" style="left:17.75px;top:12px"><a href="#">3</a></span></div>
<div class="c s" style="left:841px;width:68px"><span class="v" style="left:18.5px;top:12px"><a href="#">3</a></span></div>
<div class="c s" style="left:909px;width:68px"><span class="v" style="left:18.0px;top:12px"><a href="#">3</a></span></div>
<div class="c s" style="left:977px;width:67px"><span class="v" style="left:17.5px;top:12px"><a href="#">3</a></span></div>
<div class="c s" style="left:1044px;width:68px"><span class="v" style="left:18.25px;top:12px"><a href="#">3</a></span></div>
<div class="c s" style="left:1112px;width:67px"><span class="v" style="left:17.75px;top:12px"><a href="#">3</a></span></div>
<div class="c p" style="left:1179px;width:68px"><span class="v" style="left:18.25px;top:12px"><a href="#">9</a><sup>-6</sup></span></div>
<div class="c" style="left:1247px;width:68px"><span class="v" style="left:17.75px;top:12px"><a href="#">5</a></span></div>
</div>
<div class="r o" style="top:901px;height:44px">
<span class="cb" style="top:10px"></span>
<div class="k" style="top:12px"><span style="letter-spacing:-0.16px">стеллаж</span> <span style="letter-spacing:0.11px">mgk</span> <span style="letter-spacing:0.25px">приобрести</span></div>
<div class="c s" style="left:356px;width:80px"></div>
<div class="c p" style="left:436px;width:68px"><span class="v" style="left:18.0px;top:12px"><a href="#">3</a><sup>-1</sup></span></div>
<div class="c g" style="left:504px;width:67px"><span class="v" style="left:17.5px;top:12px"><a href="#">2</a><sup>+1</sup></span></div>
<div class="c" style="left:571px;width:68px"><span class="v" style="left:18.25px;top:12px"><a href="#">3</a></span></div>
<div class="c s" style="left:639px;width:67px"><span class="v" style="left:17.75px;top:12px"><a href="#">3</a></span></div>
<div class="c p" style="left:706px;width:68px"><span class="v" style="left:18.25px;top:12px"><a href="#">3</a><sup>-1</sup></span></div>
<div class="c" style="left:774px;width:67px"><span class="v" style="left:17.75px;top:12px"><a href="#">2</a></span></div>
<div class="c s" style="left:841px;width:68px"><span class="v" style="left:18.5px;top:12px"><a href="#">2</a></span></div>
<div class="c s" style="left:909px;width:68px"><span class="v" style="left:18.0px;top:12px"><a href="#">2</a></span></div>
<div class="c p" style="left:977px;width:67px"><span class="v" style="left:17.5px;top:12px"><a href="#">4</a><sup>-2</sup></span></div>
<div class="c g" style="left:1044px;width:68px"><span class="v" style="left:18.25px;top:12px"><a href="#">3</a><sup>+1</sup></span></div>
<div class="c" style="left:1112px;width:67px"><span class="v" style="left:17.75px;top:12px"><a href="#">3</a></span></div>
<div class="c p" style="left:1179px;width:68px"><span class="v" style="left:18.25px;top:12px"><a href="#">11</a><sup>-8</sup></span></div>
<div class="c" style="left:1247px;width:68px"><span class="v" style="left:17.75px;top:12px"><span class="d">–</span></span></div>
</div>
</div>
</body>
</html>
